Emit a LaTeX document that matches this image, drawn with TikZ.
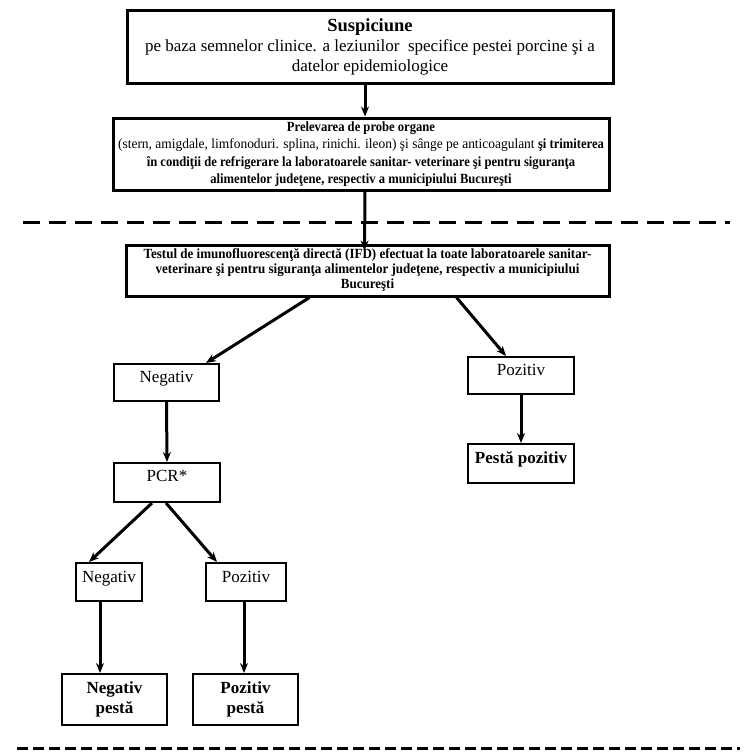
\documentclass[tikz,border=0pt]{standalone}
\usepackage{fontspec}
\setmainfont{Liberation Serif}
\newfontfamily\condA[FakeStretch=0.96,BoldFeatures={FakeStretch=0.9}]{Liberation Serif}
\newfontfamily\condB[FakeStretch=0.93]{Liberation Serif}
\usetikzlibrary{arrows.meta}
\begin{document}
\begin{tikzpicture}[x=1pt,y=-1pt,
  box/.style={draw, line width=2pt, inner sep=0pt, align=center},
  bigbox/.style={box, line width=3pt},
  small/.style={font=\fontsize{17}{20}\selectfont, text height=12pt, text depth=12pt},
  smallb/.style={font=\bfseries\fontsize{17}{20}\selectfont, text height=12pt, text depth=13pt},
  arr/.style={line width=3pt, -{Stealth[length=10pt,width=8pt]}},
  dashline/.style={line width=3pt}
]
\useasboundingbox (0,0) rectangle (753,755);

% boxes
\node[bigbox, minimum width=486pt, minimum height=73pt,
      font=\fontsize{17}{20}\selectfont] (b1) at (370,46.5)
  {{\fontsize{18.5}{20}\selectfont\textbf{Suspiciune}}\\pe baza semnelor clinice. a leziunilor\ \ specifice pestei porcine şi a\\datelor epidemiologice};

\node[bigbox, minimum width=496pt, minimum height=72pt,
      font=\condA\fontsize{14}{17.5}\selectfont] (b2) at (361,154)
  {\textbf{Prelevarea de probe organe}\\(stern, amigdale, limfonoduri. splina, rinichi. ileon) şi sânge pe anticoagulant \textbf{şi trimiterea}\\\textbf{în condiţii de refrigerare la laboratoarele sanitar- veterinare şi pentru siguranţa}\\\textbf{alimentelor judeţene, respectiv a municipiului Bucureşti}};

\node[bigbox, minimum width=483pt, minimum height=51pt,
      font=\condB\bfseries\fontsize{14}{15}\selectfont] (b3) at (367.5,270.5)
  {Testul de imunofluorescenţă directă (IFD) efectuat la toate laboratoarele sanitar-\\veterinare şi pentru siguranţa alimentelor judeţene, respectiv a municipiului\\Bucureşti};

\node[box, small, minimum width=105pt, minimum height=37pt] (n1) at (166.5,382.5) {Negativ};
\node[box, small, minimum width=106pt, minimum height=37pt] (p1) at (521,375.5) {Pozitiv};
\node[box, smallb, minimum width=106pt, minimum height=39pt] (pp) at (521,463.5) {Pestă pozitiv};
\node[box, small, minimum width=106pt, minimum height=39pt, text depth=15pt] (pcr) at (167,482.5) {PCR*};
\node[box, small, minimum width=66pt, minimum height=38pt] (n2) at (109,582) {Negativ};
\node[box, small, minimum width=80pt, minimum height=38pt] (p2) at (246,582) {Pozitiv};
\node[box, minimum width=105pt, minimum height=51pt, font=\bfseries\fontsize{17}{20.5}\selectfont] (np) at (114.5,699.5) {Negativ\\pestă};
\node[box, minimum width=105pt, minimum height=51pt, font=\bfseries\fontsize{17}{20.5}\selectfont] (pzp) at (245.5,699.5) {Pozitiv\\pestă};

% dashed separators
\draw[dashline, dash pattern=on 17pt off 9pt] (23,222) -- (730,222);
\draw[dashline, dash pattern=on 11pt off 5pt] (17,748) -- (740,748);

% connectors
\draw[arr] ([xshift=-5pt]b1.south) -- ([xshift=4pt]b2.north);
\draw[arr] ([xshift=4pt]b2.south) -- ([xshift=-3pt,yshift=-7pt]b3.north);
\draw[arr] ([xshift=185pt]b3.south west) -- ([xshift=93pt]n1.north west);
\draw[arr] ([xshift=332pt]b3.south west) -- ([xshift=39pt]p1.north west);
\draw[arr] (n1.south) -- (pcr.north);
\draw[arr] (p1.south) -- (pp.north);
\draw[arr] ([xshift=39pt]pcr.south west) -- ([xshift=14pt]n2.north west);
\draw[arr] ([xshift=53pt]pcr.south west) -- ([xshift=12pt]p2.north west);
\draw[arr] ([xshift=25pt]n2.south west) -- ([xshift=39pt]np.north west);
\draw[arr] ([xshift=39pt]p2.south west) -- ([xshift=52pt]pzp.north west);
\end{tikzpicture}
\end{document}
